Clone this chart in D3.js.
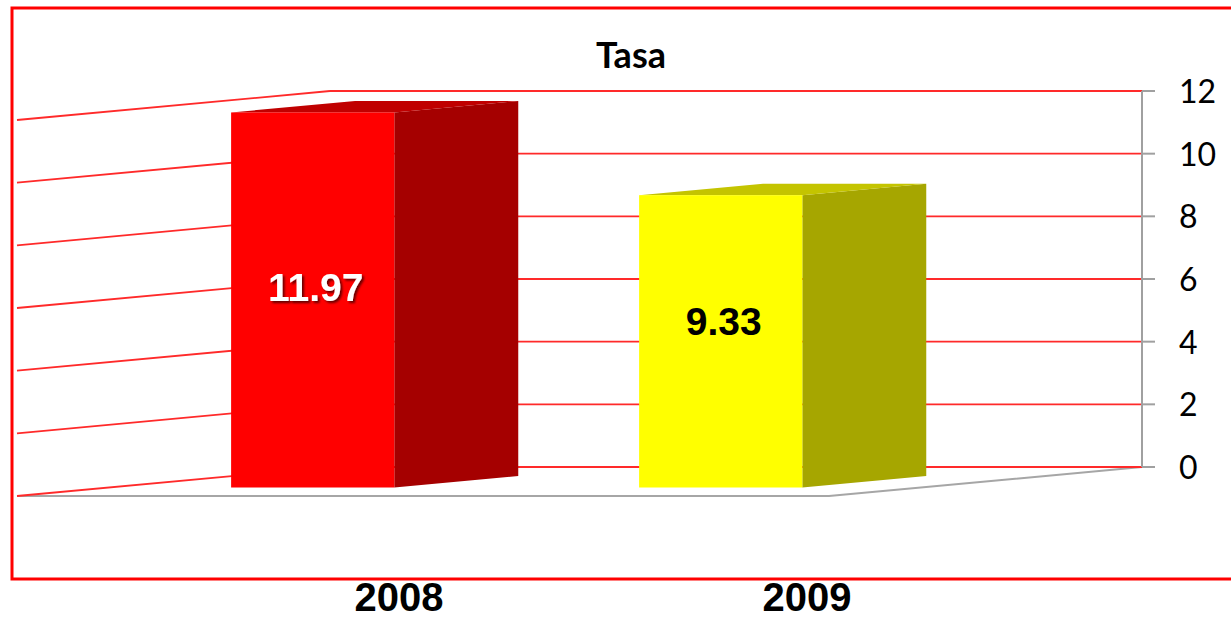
<!DOCTYPE html>
<html>
<head>
<meta charset="utf-8">
<script src="https://cdn.jsdelivr.net/npm/d3@7"></script>
<style>
  body { margin: 0; background: #fff; }
  svg { display: block; }
</style>
</head>
<body>
<script>
// data
var years = ["2008", "2009"];
var tasa = [11.97, 9.33];
var yTicks = [0, 2, 4, 6, 8, 10, 12];
var frontColors = ["#ff0000", "#ffff00"];
var sideColors = ["#a50000", "#a6a600"];
var topColors = ["#c00000", "#c4c400"];
var labelColors = ["#ffffff", "#000000"];

var W = 1231, H = 618;
var svg = d3.select("body").append("svg")
    .attr("width", W)
    .attr("height", H);

// shadow for the white label
var defs = svg.append("defs");
defs.append("filter").attr("id", "shadow")
    .append("feDropShadow")
    .attr("dx", 2).attr("dy", 2).attr("stdDeviation", 1.2)
    .attr("flood-color", "#000").attr("flood-opacity", 0.6);

// back wall: x from 330 to 1142, value 0..12
var wallLeft = 330, wallRight = 1142;
var yScale = d3.scaleLinear().domain([0, 12]).range([467, 91]);
var xScale = d3.scaleBand().domain(years).range([330, 1146]);

// depth: z=0 back wall, z=1 front of floor
var depthX = -313, depthY = 29;
function px(x, z) { return x + z * depthX; }
function py(v, z) { return yScale(v) + z * depthY; }

// frame
svg.append("rect")
    .attr("x", 12).attr("y", 8)
    .attr("width", 1240).attr("height", 571)
    .attr("fill", "none")
    .attr("stroke", "#ff0000")
    .attr("stroke-width", 3);

// title
svg.append("text")
    .attr("x", 631).attr("y", 68)
    .attr("text-anchor", "middle")
    .attr("font-family", "Lato, sans-serif")
    .attr("font-weight", "bold")
    .attr("font-size", "36px")
    .attr("fill", "#000")
    .text("Tasa");

// floor
var floorPts = [
  [px(wallLeft, 1), py(0, 1)],
  [px(wallRight, 1), py(0, 1)],
  [wallRight, yScale(0)]
];
svg.append("path")
    .attr("d", d3.line()(floorPts))
    .attr("fill", "none")
    .attr("stroke", "#a6a6a6")
    .attr("stroke-width", 2);

// left wall gridlines
svg.selectAll(".sidegrid")
    .data(yTicks)
    .enter().append("line")
    .attr("class", "sidegrid")
    .attr("x1", wallLeft).attr("y1", function(d) { return py(d, 0); })
    .attr("x2", px(wallLeft, 1)).attr("y2", function(d) { return py(d, 1); })
    .attr("stroke", "#ff2a2a")
    .attr("stroke-width", 1.8);

// back wall gridlines
svg.selectAll(".backgrid")
    .data(yTicks)
    .enter().append("line")
    .attr("class", "backgrid")
    .attr("x1", wallLeft).attr("x2", wallRight)
    .attr("y1", function(d) { return yScale(d); })
    .attr("y2", function(d) { return yScale(d); })
    .attr("stroke", "#ff2a2a")
    .attr("stroke-width", 1.8);

// right axis
var axis = svg.append("g");
axis.append("line")
    .attr("x1", wallRight).attr("x2", wallRight)
    .attr("y1", yScale(12)).attr("y2", yScale(0))
    .attr("stroke", "#a0a0a0").attr("stroke-width", 2);
axis.selectAll(".tick")
    .data(yTicks)
    .enter().append("line")
    .attr("x1", wallRight).attr("x2", wallRight + 13)
    .attr("y1", function(d) { return yScale(d); })
    .attr("y2", function(d) { return yScale(d); })
    .attr("stroke", "#a0a0a0").attr("stroke-width", 2);
axis.selectAll(".ticklabel")
    .data(yTicks)
    .enter().append("text")
    .attr("x", 1179)
    .attr("y", function(d) { return yScale(d) + 12; })
    .attr("font-family", "Lato, sans-serif")
    .attr("font-size", "32px")
    .attr("fill", "#000")
    .text(function(d) { return d; });

// bars
var barW = xScale.bandwidth() * 0.4;
var zFront = 0.707, zBack = zFront - 0.396;

var bars = svg.selectAll(".bar")
    .data(tasa)
    .enter().append("g")
    .attr("class", "bar");

bars.each(function(v, i) {
  var g = d3.select(this);
  var cx = xScale(years[i]) + xScale.bandwidth() / 2;
  var xl = cx - barW / 2, xr = cx + barW / 2;
  var fl = px(xl, zFront), fr = px(xr, zFront);
  var bl = px(xl, zBack), br = px(xr, zBack);
  var ft = py(v, zFront), fb = py(0, zFront);
  var bt = py(v, zBack), bb = py(0, zBack);

  // side face
  g.append("path")
      .attr("d", d3.line()([[fr, ft], [br, bt], [br, bb], [fr, fb]]) + "Z")
      .attr("fill", sideColors[i]);
  // top face
  g.append("path")
      .attr("d", d3.line()([[fl, ft], [bl, bt], [br, bt], [fr, ft]]) + "Z")
      .attr("fill", topColors[i]);
  // front face
  g.append("rect")
      .attr("x", fl).attr("y", ft)
      .attr("width", fr - fl).attr("height", fb - ft)
      .attr("fill", frontColors[i]);

  // value label
  g.append("text")
      .attr("x", (fl + fr) / 2 + 3)
      .attr("y", i === 0 ? 301 : 335)
      .attr("text-anchor", "middle")
      .attr("font-family", "'Liberation Sans', Arial, sans-serif")
      .attr("font-weight", "bold")
      .attr("font-size", "39px")
      .attr("fill", labelColors[i])
      .attr("filter", i === 0 ? "url(#shadow)" : null)
      .text(v.toFixed(2));
});

// category labels under the frame
svg.selectAll(".cat")
    .data(years)
    .enter().append("text")
    .attr("class", "cat")
    .attr("x", function(d) { return xScale(d) + xScale.bandwidth() / 2 - 135; })
    .attr("y", 611)
    .attr("text-anchor", "middle")
    .attr("font-family", "'Liberation Sans', Arial, sans-serif")
    .attr("font-weight", "bold")
    .attr("font-size", "40px")
    .attr("fill", "#000")
    .text(function(d) { return d; });
</script>
</body>
</html>
